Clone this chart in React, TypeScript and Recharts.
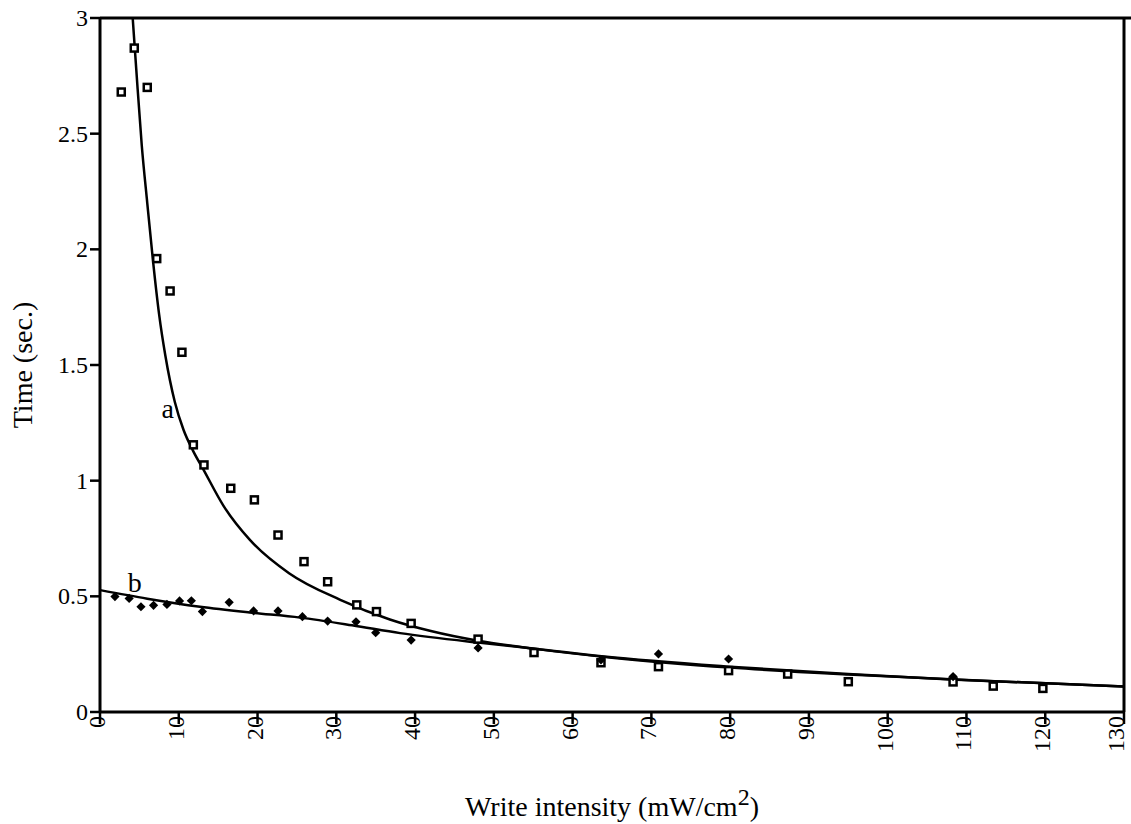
import React from 'react';
import {
  ComposedChart,
  Line,
  Scatter,
  XAxis,
  YAxis,
  ReferenceLine,
  ReferenceDot,
  Label,
} from 'recharts';

// tick values
const xTicks = [0, 10, 20, 30, 40, 50, 60, 70, 80, 90, 100, 110, 120, 130];
const yTicks = [0, 0.5, 1, 1.5, 2, 2.5, 3];

// series a: measured points (open squares)
const squareX = [2.7, 4.35, 6.0, 7.2, 8.9, 10.4, 11.85, 13.2, 16.6, 19.6, 22.6, 25.9, 28.9, 32.6, 35.1, 39.5, 48.0, 55.1, 63.6, 70.9, 79.8, 87.3, 95.0, 108.3, 113.4, 119.7];
const squareY = [2.68, 2.87, 2.7, 1.96, 1.82, 1.555, 1.155, 1.068, 0.967, 0.917, 0.765, 0.65, 0.563, 0.463, 0.434, 0.383, 0.315, 0.257, 0.213, 0.196, 0.179, 0.164, 0.131, 0.13, 0.112, 0.102];

// series b: measured points (filled diamonds)
const diamondX = [1.9, 3.7, 5.2, 6.8, 8.5, 10.1, 11.6, 13.0, 16.4, 19.5, 22.6, 25.7, 28.9, 32.5, 35.0, 39.5, 48.0, 63.6, 70.9, 79.8, 108.3];
const diamondY = [0.499, 0.491, 0.455, 0.461, 0.465, 0.48, 0.481, 0.434, 0.474, 0.437, 0.437, 0.412, 0.393, 0.39, 0.343, 0.311, 0.277, 0.225, 0.251, 0.229, 0.153];

// fitted curve a
const curveAX = [4.15, 4.6, 5.3, 6.0, 6.7, 7.5, 8.3, 9.5, 10.6, 11.8, 13.1, 15.7, 19.0, 24.0, 30.5, 36.8, 42.0, 48.0, 55.0, 65.0, 80.0, 95.0, 110.0, 130.0];
const curveAY = [3.0, 2.78, 2.45, 2.2, 1.96, 1.72, 1.54, 1.34, 1.22, 1.13, 1.05, 0.89, 0.745, 0.6, 0.485, 0.4, 0.35, 0.308, 0.274, 0.235, 0.192, 0.162, 0.138, 0.11];

// fitted curve b
const curveBX = [0, 6, 12.7, 19, 25.4, 32, 38.1, 48, 55, 64, 80, 95, 108, 130];
const curveBY = [0.527, 0.49, 0.455, 0.43, 0.408, 0.375, 0.341, 0.3, 0.275, 0.24, 0.196, 0.164, 0.141, 0.11];

const serif = "'Liberation Serif', 'Times New Roman', serif";

const zip = (xs: number[], ys: number[]) => xs.map((x, i) => ({ x, y: ys[i] }));

const squares = zip(squareX, squareY);
const diamonds = zip(diamondX, diamondY);
const curveA = zip(curveAX, curveAY);
const curveB = zip(curveBX, curveBY);

const SquareMark = (props: any) => {
  const { cx, cy } = props;
  return <rect x={cx - 3.5} y={cy - 3.5} width={7} height={7} fill="#fff" stroke="#000" strokeWidth={2.5} />;
};

const DiamondMark = (props: any) => {
  const { cx, cy } = props;
  const r = 4.6;
  return <polygon points={`${cx},${cy - r} ${cx + r},${cy} ${cx},${cy + r} ${cx - r},${cy}`} fill="#000" />;
};

const XTick = (props: any) => {
  const { x, y, payload, index } = props;
  // the last label sits against the right edge of the page
  const dx = index === xTicks.length - 1 ? -8 : -3;
  return (
    <text
      x={0}
      y={0}
      transform={`translate(${x + dx},${y - 8}) rotate(-90)`}
      textAnchor="end"
      dominantBaseline="central"
      fontFamily={serif}
      fontSize={24}
      fill="#000"
    >
      {payload.value}
    </text>
  );
};

const YTick = (props: any) => {
  const { x, y, payload } = props;
  return (
    <text x={x} y={y} textAnchor="end" dominantBaseline="central" fontFamily={serif} fontSize={24} fill="#000">
      {payload.value}
    </text>
  );
};

export default function App() {
  return (
    <div style={{ position: 'absolute', left: 0, top: 0, width: 1131, height: 824, background: '#fff' }}>
      <ComposedChart width={1131} height={824} margin={{ top: 18, right: 7, bottom: 0, left: 0 }}>
        <XAxis
          type="number"
          dataKey="x"
          domain={[0, 130]}
          ticks={xTicks}
          interval={0}
          allowDataOverflow
          height={112}
          axisLine={{ stroke: '#000', strokeWidth: 3 }}
          tickLine={{ stroke: '#000', strokeWidth: 2.5 }}
          tickSize={12}
          tickMargin={0}
          tick={<XTick />}
        >
          <Label
            content={(p: any) => {
              const vb = p.viewBox;
              const cx = vb.x + vb.width / 2;
              return (
                <text x={cx} y={816} textAnchor="middle" fontFamily={serif} fontSize={28} fill="#000">
                  Write intensity (mW/cm
                  <tspan fontSize={24} dy={-11}>2</tspan>
                  <tspan dy={11}>)</tspan>
                </text>
              );
            }}
          />
        </XAxis>
        <YAxis
          type="number"
          dataKey="y"
          domain={[0, 3]}
          ticks={yTicks}
          interval={0}
          allowDataOverflow
          width={100}
          axisLine={{ stroke: '#000', strokeWidth: 3 }}
          tickLine={{ stroke: '#000', strokeWidth: 2.5 }}
          tickSize={10}
          tickMargin={2}
          tick={<YTick />}
        >
          <Label
            content={(p: any) => {
              const vb = p.viewBox;
              const cy = vb.y + vb.height / 2;
              return (
                <text
                  x={0}
                  y={0}
                  transform={`translate(22,${cy}) rotate(-90)`}
                  textAnchor="middle"
                  dominantBaseline="central"
                  fontFamily={serif}
                  fontSize={28}
                  fill="#000"
                >
                  Time (sec.)
                </text>
              );
            }}
          />
        </YAxis>
        <ReferenceLine
          segment={[{ x: 0, y: 3 }, { x: 130.9, y: 3 }]}
          ifOverflow="visible"
          stroke="#000"
          strokeWidth={3}
        />
        <ReferenceLine x={130} stroke="#000" strokeWidth={3} />
        <Line
          data={curveA}
          dataKey="y"
          type="monotone"
          stroke="#000"
          strokeWidth={2.5}
          dot={false}
          activeDot={false}
          isAnimationActive={false}
        />
        <Line
          data={curveB}
          dataKey="y"
          type="monotone"
          stroke="#000"
          strokeWidth={2.5}
          dot={false}
          activeDot={false}
          isAnimationActive={false}
        />
        <Scatter data={squares} dataKey="y" shape={<SquareMark />} isAnimationActive={false} />
        <Scatter data={diamonds} dataKey="y" shape={<DiamondMark />} isAnimationActive={false} />
        <ReferenceDot
          x={8.6}
          y={1.315}
          r={0}
          fill="none"
          stroke="none"
          label={{ value: 'a', position: 'center', fontFamily: serif, fontSize: 28, fill: '#000' }}
        />
        <ReferenceDot
          x={4.4}
          y={0.563}
          r={0}
          fill="none"
          stroke="none"
          label={{ value: 'b', position: 'center', fontFamily: serif, fontSize: 28, fill: '#000' }}
        />
      </ComposedChart>
    </div>
  );
}
